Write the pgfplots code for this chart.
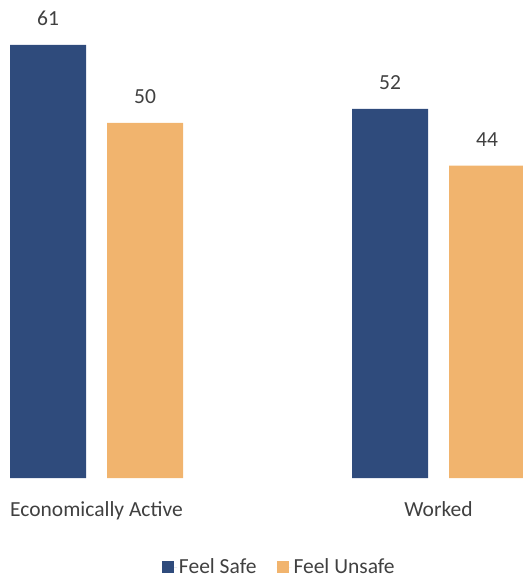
\documentclass[border=0pt]{standalone}
\usepackage{pgfplots}
\pgfplotsset{compat=1.18}
\usepackage{fontspec}
\setmainfont{Carlito}
\definecolor{safe}{HTML}{2F4B7C}
\definecolor{unsafe}{HTML}{F1B46E}
\definecolor{txt}{HTML}{404040}
\begin{document}
\begin{tikzpicture}[x=1bp,y=1bp]
\useasboundingbox (0,-102) rectangle (523,478);
\fontsize{21.5bp}{25bp}\selectfont
\begin{axis}[
  scale only axis,
  width=523bp, height=458bp,
  xmin=0, xmax=523, ymin=0, ymax=64.5,
  ybar, bar width=76bp, bar shift=0pt,
  axis line style={draw=none},
  tick style={draw=none},
  ytick=\empty,
  xtick={96.5,438.5},
  xticklabels={Economically Active, Worked},
  xticklabel style={font=\fontsize{21.5bp}{25bp}\selectfont, text=txt, anchor=base, inner sep=0pt, yshift=-34bp},
  clip=false,
  /pgf/number format/assume math mode=true,
  nodes near coords,
  every node near coord/.append style={font=\fontsize{21.5bp}{25bp}\selectfont, text=txt, anchor=base, inner sep=0pt, yshift=19bp},
  legend columns=2,
  legend style={draw=none, fill=none, inner sep=0pt, outer sep=0pt,
    at={(axis cs:162,-12.6)}, anchor=west,
    font=\fontsize{21.5bp}{25bp}\selectfont, text=txt,
    /tikz/every even column/.append style={column sep=18bp}},
  legend image code/.code={\fill[#1] (0bp,-6bp) rectangle (12bp,6bp); \path (0bp,0bp) -- (15bp,0bp);},
]
\addplot[fill=safe, draw=none] coordinates {(48,61) (390,52)};
\addlegendentry{Feel Safe}
\addplot[fill=unsafe, draw=none] coordinates {(145,50) (487,44)};
\addlegendentry{Feel Unsafe}
\end{axis}
\end{tikzpicture}
\end{document}
